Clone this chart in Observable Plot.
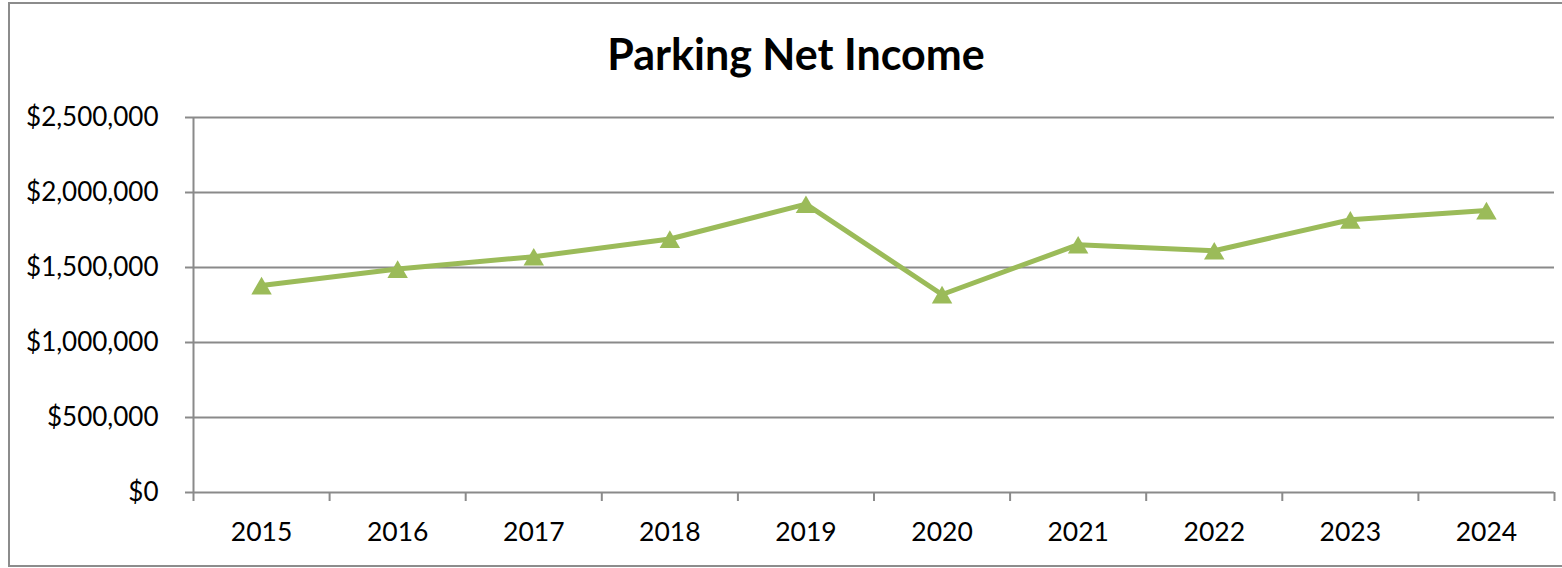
<!DOCTYPE html>
<html>
<head>
<meta charset="utf-8">
<script src="https://cdn.jsdelivr.net/npm/d3@7"></script>
<script src="https://cdn.jsdelivr.net/npm/@observablehq/plot@0.6"></script>
<style>
  html, body { margin: 0; padding: 0; background: #fff; }
  body { width: 1562px; height: 568px; position: relative; overflow: hidden; font-family: Lato, "Open Sans", sans-serif; }
  #frame { position: absolute; left: 8px; top: 2px; width: 1600px; height: 565px; border: 2px solid #8c8c8c; box-sizing: border-box; pointer-events: none; }
  #title { position: absolute; left: 596px; width: 400px; top: 32px; text-align: center; font-weight: bold; font-size: 43px; line-height: 43px; color: #000; white-space: nowrap; }
  #chart { position: absolute; left: 0; top: 80px; }
</style>
</head>
<body>
<div id="title">Parking Net Income</div>
<div id="chart"></div>
<div id="frame"></div>
<script>
const years = [2015, 2016, 2017, 2018, 2019, 2020, 2021, 2022, 2023, 2024];
const income = [1380000, 1490000, 1572000, 1690000, 1922000, 1320000, 1652000, 1612000, 1818000, 1880000];
const yTicks = [0, 500000, 1000000, 1500000, 2000000, 2500000];

const data = years.map((year, i) => ({year, value: income[i]}));
const boundaries = [...years.map(y => y - 0.5), years[years.length - 1] + 0.5];
const gray = "#8a8a8a";
const green = "#9BBB59";
const fmt = d => "$" + d3.format(",")(d);

const chart = Plot.plot({
  width: 1562,
  height: 488,
  marginTop: 37,
  marginRight: 8,
  marginBottom: 76,
  marginLeft: 193,
  style: {fontFamily: "Lato, 'Open Sans', sans-serif", background: "transparent", color: "#000", overflow: "visible"},
  x: {type: "linear", domain: [boundaries[0], boundaries[boundaries.length - 1]]},
  y: {domain: [0, 2500000]},
  marks: [
    Plot.ruleY(yTicks, {stroke: gray, strokeWidth: 2}),
    Plot.ruleX([boundaries[0]], {y1: 0, y2: 2500000, stroke: gray, strokeWidth: 2}),
    Plot.axisY(yTicks, {tickSize: 8, tickPadding: 27, tickFormat: fmt, fontSize: 26, stroke: gray, strokeWidth: 2, fill: "#000", label: null}),
    Plot.axisX(boundaries, {tickSize: 9, tickFormat: () => "", stroke: gray, strokeWidth: 2, label: null}),
    Plot.axisX(years, {tickSize: 0, tickPadding: 30, tickFormat: d => String(d), fontSize: 26.5, fill: "#000", label: null}),
    Plot.line(data, {x: "year", y: "value", stroke: green, strokeWidth: 5}),
    Plot.dot(data, {x: "year", y: "value", symbol: "triangle", r: 7.6, fill: green, stroke: "none", dy: 3})
  ]
});
document.getElementById("chart").appendChild(chart);
</script>
</body>
</html>
